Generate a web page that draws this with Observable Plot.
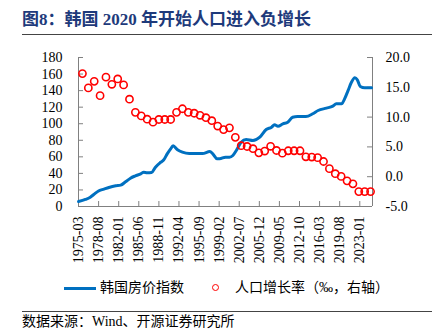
<!DOCTYPE html>
<html><head><meta charset="utf-8">
<script src="https://cdn.jsdelivr.net/npm/d3@7"></script>
<script src="https://cdn.jsdelivr.net/npm/@observablehq/plot@0.6"></script>
<style>
body{margin:0;background:#fff;}
#wrap{position:relative;width:439px;height:330px;overflow:hidden;font-family:"Liberation Serif","Noto Sans CJK SC",serif;color:#000;}
#title{position:absolute;left:22px;top:10px;font-size:17px;font-weight:bold;color:#1e3a7b;line-height:20px;white-space:nowrap;}
.rule{position:absolute;left:22px;width:410px;height:1px;background:#444;}
#chart{position:absolute;left:0;top:40px;}
#legend{position:absolute;top:279px;left:0;width:439px;height:18px;font-size:14px;line-height:18px;white-space:nowrap;}
#legend .ln{position:absolute;left:64px;top:7.5px;width:32px;height:3px;background:#0070C0;}
#legend .t1{position:absolute;left:100px;top:0;}
#legend .c{position:absolute;left:212px;top:5px;width:5px;height:5px;border:1.6px solid #FF0000;border-radius:50%;}
#legend .t2{position:absolute;left:235px;top:0;}
#source{position:absolute;left:22px;top:314px;font-size:14px;line-height:15px;white-space:nowrap;}
</style></head><body>
<div id="wrap">
  <div id="title">图8：韩国 2020 年开始人口进入负增长</div>
  <div class="rule" style="top:34px"></div>
  <div id="chart"></div>
  <div id="legend"><div class="ln"></div><span class="t1">韩国房价指数</span><div class="c"></div><span class="t2">人口增长率（‰，右轴）</span></div>
  <div class="rule" style="top:311px"></div>
  <div id="source">数据来源：Wind、开源证券研究所</div>
</div>
<script>
// X-axis tick labels (every 41 months)
const xTickLabels = ["1975-03","1978-08","1982-01","1985-06","1988-11","1992-04","1995-09","1999-02","2002-07","2005-12","2009-05","2012-10","2016-03","2019-08","2023-01"];
const xStart = "1975-03";
const xEnd = "2025-03";

// Korea house price index (left axis)
const priceDates = ["1975-03","1976-05","1977-03","1977-10","1978-07","1979-07","1980-05","1981-07","1982-05","1983-03","1984-01","1984-11","1985-10","1986-04","1986-11","1987-08","1988-04","1989-03","1989-09","1990-04","1990-11","1991-04","1992-01","1992-11","1994-01","1996-04","1997-07","1998-01","1998-10","1999-03","2000-03","2000-11","2001-06","2002-01","2002-11","2003-09","2004-11","2006-01","2007-02","2008-01","2008-07","2009-02","2009-12","2010-10","2011-08","2012-06","2013-11","2015-01","2015-12","2017-05","2018-06","2019-01","2019-12","2020-06","2021-01","2021-08","2022-03","2022-08","2023-02","2023-11","2025-01"];
const priceValues = [6.0,8.5,11.3,14.5,18.5,21,23,25,25.8,29.8,34.2,37,39.5,41.4,40.7,41,47.5,53.5,56.4,63.6,69.7,73.3,68.5,65.6,64,64,66.4,63.6,57.6,57.6,59.6,59.6,61.6,67.6,77.7,80.9,79.7,83.7,93,95.8,98.7,97,99.9,101.8,107.9,108.7,108.7,112,116,118.8,121.2,124,124,130,140,150,155.4,153,145,143.4,143.4];

// Population growth rate (‰, right axis), one dot per year
const popYears = [1975,1976,1977,1978,1979,1980,1981,1982,1983,1984,1985,1986,1987,1988,1989,1990,1991,1992,1993,1994,1995,1996,1997,1998,1999,2000,2001,2002,2003,2004,2005,2006,2007,2008,2009,2010,2011,2012,2013,2014,2015,2016,2017,2018,2019,2020,2021,2022,2023,2024];
const popValues = [17.3,14.9,16.0,13.6,16.7,15.5,16.4,15.4,13.0,10.8,10.2,9.65,9.15,9.6,9.6,9.6,10.8,11.4,10.8,10.65,10.3,9.9,9.4,8.5,7.9,8.2,6.6,5.2,5.07,4.7,4.0,4.3,5.1,4.4,3.95,4.35,4.35,4.35,3.34,3.3,3.2,2.55,1.35,0.5,0.05,-0.7,-1.2,-2.5,-2.5,-2.5];

const leftTicks = [0,20,40,60,80,100,120,140,160,180];
const rightTicks = [-5,0,5,10,15,20];

const parseYM = s => new Date(Date.UTC(+s.slice(0,4), +s.slice(5,7)-1, 1));
const fmtYM = d3.utcFormat("%Y-%m");
const L0 = 0, L1 = 180, R0 = -5, R1 = 20;
const toLeft = r => L0 + (r - R0) * (L1 - L0) / (R1 - R0);
const fromLeft = l => R0 + (l - L0) * (R1 - R0) / (L1 - L0);

const priceData = priceDates.map((d,i) => ({date: parseYM(d), value: priceValues[i]}));
const popData = popYears.map((y,i) => ({date: new Date(Date.UTC(y, 10, 1)), value: popValues[i]}));
const xTicks = xTickLabels.map(parseYM);

const W = 439, H = 230, mL = 78, mR = 67, mT = 17, mB = 64;
const innerW = W - mL - mR, innerH = H - mT - mB;
const axisColor = "#808080";

const chart = Plot.plot({
  width: W, height: H,
  marginLeft: mL, marginRight: mR, marginTop: mT, marginBottom: mB,
  style: {fontFamily: "'Liberation Serif', serif", fontSize: "14px", color: "#000", background: "transparent"},
  x: {type: "utc", domain: [parseYM(xStart), parseYM(xEnd)]},
  y: {domain: [L0, L1]},
  marks: [
    Plot.gridX({ticks: xTicks, stroke: axisColor, strokeOpacity: 1, insetTop: innerH - 5}),
    Plot.gridY({ticks: leftTicks, stroke: axisColor, strokeOpacity: 1, insetRight: innerW - 5}),
    Plot.gridY({ticks: rightTicks.map(toLeft), stroke: axisColor, strokeOpacity: 1, insetLeft: innerW - 5}),
    Plot.ruleX([parseYM(xStart)], {stroke: axisColor}),
    Plot.ruleX([parseYM(xEnd)], {stroke: axisColor}),
    Plot.ruleY([L0], {stroke: axisColor}),
    Plot.axisY({ticks: leftTicks, anchor: "left", tickSize: 0, tickPadding: 16, label: null, fontSize: 14}),
    Plot.axisY({ticks: rightTicks.map(toLeft), anchor: "right", tickSize: 0, tickPadding: 13, label: null, fontSize: 14, tickFormat: v => fromLeft(v).toFixed(1)}),
    Plot.axisX({ticks: xTicks, tickSize: 0, tickPadding: 10, tickRotate: -90, label: null, fontSize: 14, tickFormat: d => fmtYM(d)}),
    Plot.line(priceData, {x: "date", y: "value", stroke: "#0070C0", strokeWidth: 3, curve: "monotone-x"}),
    Plot.dot(popData, {x: "date", y: d => toLeft(d.value), r: 3.6, stroke: "#FF0000", strokeWidth: 1.6, fill: "none"})
  ]
});
document.getElementById("chart").appendChild(chart);
</script>
</body></html>
